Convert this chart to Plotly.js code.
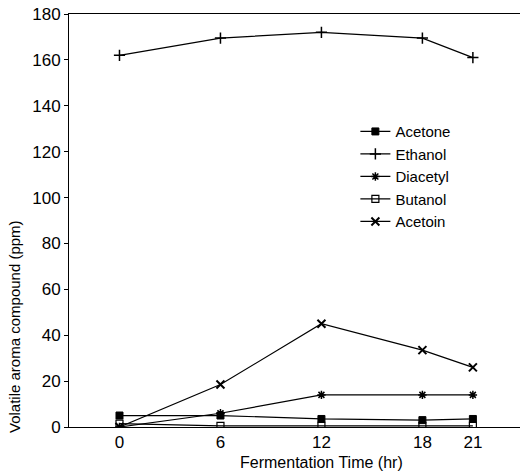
<!DOCTYPE html>
<html><head><meta charset="utf-8">
<script src="https://cdn.plot.ly/plotly-3.0.1.min.js"></script>
<style>html,body{margin:0;padding:0;background:#fff}#c{width:528px;height:473px}</style>
</head><body><div id="c"></div>
<script>
const times = [0, 6, 12, 18, 21];
const tickLabels = ["0", "6", "12", "18", "21"];
const acetone = [5, 5, 3.5, 3, 3.5];
const ethanol = [162, 169.5, 172, 169.5, 161];
const diacetyl = [0, 6, 14, 14, 14];
const butanol = [1.5, 0.5, 0.5, 0.5, 0.5];
const acetoin = [0, 18.5, 45, 33.5, 26];
const xTitle = 'Fermentation Time (hr)';
const yTitle = 'Volatile aroma compound (ppm)';

const ln = {color: '#000', width: 1.2};
function tr(name, y, sym, size, lw) {
  return {x: times, y: y, name: name, type: 'scatter', mode: 'lines+markers',
    line: ln, marker: {symbol: sym, size: size, color: '#000', line: {color: '#000', width: lw}}};
}
const data = [
  tr('Acetone', acetone, 'square', 7, 1),
  tr('Ethanol', ethanol, 'cross-thin', 8, 1.5),
  tr('Diacetyl', diacetyl, 'asterisk', 7, 1.5),
  tr('Butanol', butanol, 'square-open', 7, 1.2),
  tr('Acetoin', acetoin, 'x-thin', 8, 2)
];
const f = {family: 'Liberation Sans, Arial, sans-serif', size: 16, color: '#000'};
const lf = {family: 'Liberation Sans, Arial, sans-serif', size: 15, color: '#000'};
const yf = {family: 'Liberation Sans, Arial, sans-serif', size: 15, color: '#000'};
const tf = {family: 'Liberation Sans, Arial, sans-serif', size: 17, color: '#000'};
const layout = {
  width: 528, height: 473,
  margin: {l: 69, r: 8, t: 14, b: 46},
  paper_bgcolor: '#fff', plot_bgcolor: '#fff',
  showlegend: true,
  legend: {x: 0.635, y: 0.755, xanchor: 'left', yanchor: 'top', font: lf,
    bgcolor: 'rgba(0,0,0,0)', tracegroupgap: 0, itemwidth: 30},
  xaxis: {range: [-3, 23.8], tickvals: times, ticktext: tickLabels,
    showgrid: false, zeroline: false, showline: true, linecolor: '#000', linewidth: 1,
    mirror: true, ticks: '', tickfont: tf},
  yaxis: {range: [0, 180], dtick: 20, showgrid: false, zeroline: false,
    showline: true, linecolor: '#000', linewidth: 1, ticks: 'outside', ticklen: 4,
    tickcolor: '#000', tickfont: tf},
  annotations: [
    {text: xTitle, xref: 'x', x: 12, yref: 'paper', y: -0.087, yanchor: 'middle',
     showarrow: false, font: f},
    {text: yTitle, xref: 'paper', x: -0.122, xanchor: 'center', yref: 'y', y: 44,
     yanchor: 'middle', textangle: -90, showarrow: false, font: yf}
  ]
};
Plotly.newPlot('c', data, layout, {displayModeBar: false, staticPlot: true});
</script></body></html>
